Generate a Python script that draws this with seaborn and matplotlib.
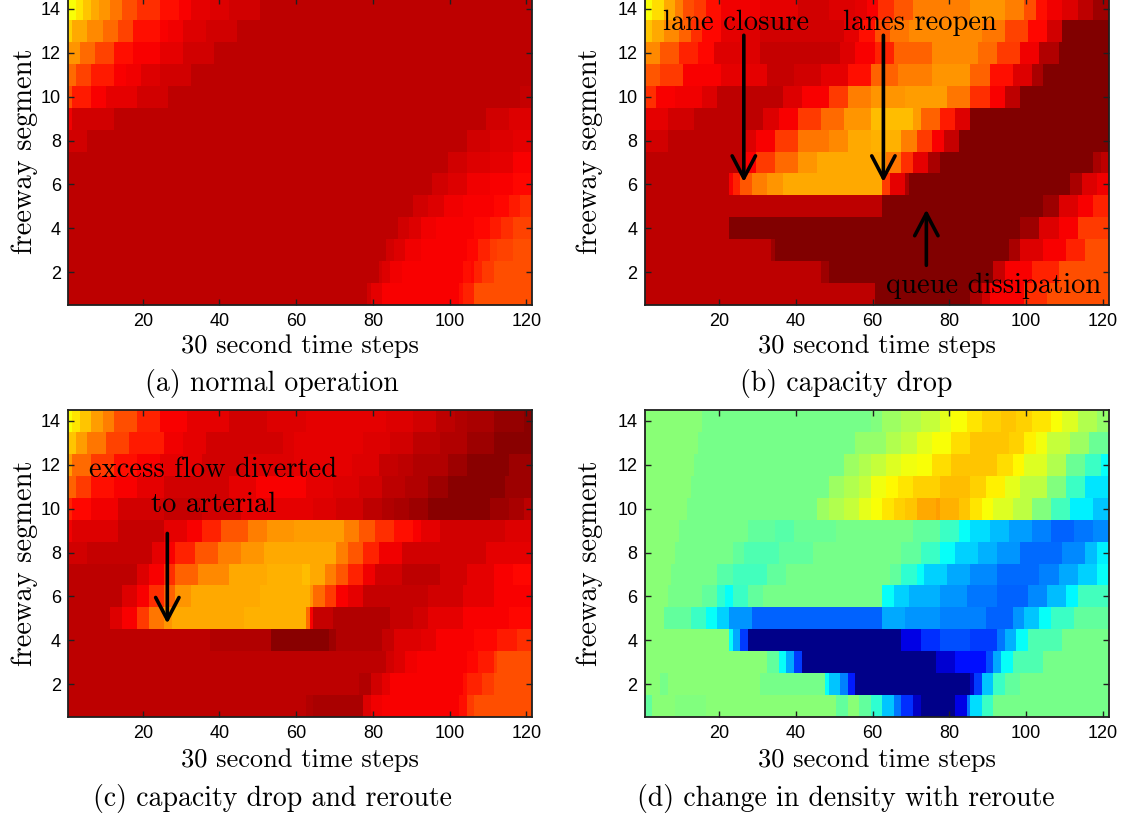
import numpy as np
import matplotlib
matplotlib.use("Agg")
import matplotlib.pyplot as plt
from matplotlib.colors import ListedColormap
import seaborn as sns

n_steps = 121
x_ticks = [20, 40, 60, 80, 100, 120]
y_ticks = [2, 4, 6, 8, 10, 12, 14]

# values on the 0-100 jet colour scale, one list per freeway segment (14 at top -> 1),
# each entry is (first 30 s time step of the run, value)
normal_runs = [
    [(1, 62), (3, 65), (5, 68), (7, 71), (9, 73), (12, 76), (15, 80), (19, 83), (25, 86), (30, 88), (33, 90), (38, 91), (43, 92), (51, 94)],
    [(1, 67), (2, 71), (6, 74), (10, 77), (14, 81), (18, 86), (25, 88), (27, 89), (31, 91), (37, 92), (45, 94)],
    [(1, 73), (4, 77), (8, 81), (13, 86), (18, 88), (25, 90), (31, 92), (39, 94)],
    [(1, 77), (3, 81), (7, 85), (13, 88), (16, 89), (20, 91), (25, 92), (33, 94)],
    [(1, 80), (2, 85), (7, 88), (11, 90), (19, 92), (27, 94), (119, 93)],
    [(1, 89), (2, 92), (13, 94), (110, 92), (116, 91)],
    [(1, 92), (6, 94), (105, 92), (111, 91), (117, 90)],
    [(1, 94), (100, 92), (105, 91), (111, 90), (117, 88)],
    [(1, 94), (96, 92), (100, 91), (105, 89), (111, 88), (117, 87)],
    [(1, 94), (91, 92), (95, 91), (99, 89), (104, 88), (112, 87), (116, 85), (119, 83)],
    [(1, 94), (87, 92), (90, 91), (93, 89), (97, 88), (107, 87), (111, 85), (114, 83), (117, 81)],
    [(1, 94), (84, 92), (86, 91), (89, 89), (93, 88), (105, 87), (108, 84), (111, 82), (113, 81), (117, 80)],
    [(1, 94), (82, 92), (83, 91), (85, 89), (88, 88), (104, 86), (106, 87), (107, 84), (109, 82), (112, 80)],
    [(1, 94), (79, 92), (80, 90), (83, 88), (103, 86), (104, 84), (107, 80)],
]

drop_runs = [
    [(1, 62), (3, 66), (6, 71), (9, 75), (11, 80), (14, 82), (17, 86), (21, 89), (31, 90), (41, 92), (49, 91), (56, 90), (59, 88), (62, 83), (66, 79), (71, 75), (86, 73), (95, 75), (100, 80), (103, 86), (106, 89), (110, 91), (114, 94), (118, 97)],
    [(1, 68), (3, 71), (6, 74), (10, 78), (13, 83), (16, 87), (21, 90), (26, 91), (31, 92), (53, 90), (57, 86), (61, 80), (65, 76), (70, 74), (89, 76), (95, 81), (101, 87), (106, 92), (110, 100)],
    [(1, 74), (5, 79), (10, 84), (15, 87), (19, 91), (31, 93), (52, 91), (56, 88), (61, 84), (66, 78), (76, 74), (88, 77), (93, 82), (99, 89), (104, 95), (109, 100)],
    [(1, 79), (5, 82), (11, 88), (21, 90), (33, 93), (40, 92), (47, 90), (54, 86), (60, 78), (67, 75), (76, 73), (86, 78), (91, 86), (97, 91), (102, 96), (105, 100)],
    [(1, 83), (4, 88), (9, 89), (16, 91), (20, 94), (37, 91), (42, 88), (49, 82), (54, 75), (60, 73), (69, 72), (80, 76), (86, 83), (91, 88), (95, 94), (99, 100)],
    [(1, 90), (7, 92), (14, 94), (32, 91), (36, 88), (41, 82), (47, 77), (53, 73), (60, 69), (71, 72), (73, 78), (78, 85), (82, 91), (86, 100)],
    [(1, 92), (7, 94), (27, 91), (30, 88), (35, 82), (41, 76), (49, 74), (54, 71), (60, 70), (68, 75), (72, 82), (76, 88), (79, 93), (83, 100)],
    [(1, 94), (27, 88), (30, 82), (35, 77), (41, 73), (46, 71), (64, 76), (68, 83), (71, 90), (75, 96), (78, 100), (118, 96), (120, 94)],
    [(1, 94), (23, 88), (24, 84), (26, 79), (29, 75), (33, 73), (37, 71), (63, 82), (65, 90), (69, 96), (70, 100), (112, 96), (115, 91), (119, 89)],
    [(1, 94), (63, 100), (105, 97), (109, 91), (114, 88), (118, 84)],
    [(1, 94), (23, 100), (99, 97), (104, 91), (109, 88), (114, 82)],
    [(1, 94), (34, 97), (35, 100), (96, 96), (99, 91), (105, 88), (111, 84), (116, 80)],
    [(1, 94), (47, 97), (49, 100), (92, 93), (95, 88), (102, 84), (109, 80)],
    [(1, 94), (61, 100), (86, 96), (89, 92), (91, 88), (100, 83), (106, 80)],
]

reroute_runs = [
    [(1, 62), (2, 65), (4, 68), (7, 72), (10, 75), (13, 80), (19, 84), (25, 88), (32, 90), (43, 92), (53, 91), (63, 90), (84, 91), (91, 92), (97, 94), (102, 95), (105, 96), (112, 98), (120, 99)],
    [(1, 68), (3, 72), (6, 76), (11, 81), (17, 85), (26, 89), (31, 90), (37, 92), (57, 91), (60, 90), (78, 91), (85, 92), (91, 94), (98, 95), (105, 97), (112, 99)],
    [(1, 72), (2, 77), (7, 82), (13, 86), (19, 88), (25, 90), (36, 92), (48, 91), (60, 90), (75, 91), (82, 93), (87, 94), (91, 95), (100, 97), (105, 99), (116, 97)],
    [(1, 78), (3, 82), (7, 86), (13, 88), (19, 90), (26, 92), (43, 90), (50, 88), (63, 90), (70, 91), (77, 92), (83, 94), (89, 95), (95, 97), (100, 99), (115, 97)],
    [(1, 84), (2, 87), (7, 89), (14, 92), (26, 93), (36, 92), (46, 90), (65, 91), (71, 92), (78, 94), (83, 95), (86, 96), (90, 97), (95, 99), (111, 97), (116, 96), (120, 94)],
    [(1, 89), (2, 91), (14, 93), (26, 90), (32, 88), (36, 84), (41, 79), (48, 75), (53, 73), (60, 72), (73, 75), (77, 79), (81, 83), (86, 86), (91, 88), (93, 90), (98, 92), (115, 91)],
    [(1, 92), (6, 93), (23, 90), (26, 88), (29, 84), (34, 79), (40, 75), (46, 73), (52, 71), (71, 75), (74, 79), (78, 84), (82, 89), (88, 92), (110, 90)],
    [(1, 94), (19, 91), (22, 88), (26, 83), (29, 78), (35, 74), (43, 71), (53, 70), (62, 69), (64, 71), (68, 75), (71, 79), (74, 84), (78, 89), (81, 92), (88, 94), (98, 92), (105, 90), (112, 88), (117, 87)],
    [(1, 94), (15, 91), (19, 88), (22, 83), (26, 78), (29, 73), (33, 71), (51, 70), (64, 73), (65, 77), (68, 82), (71, 88), (74, 90), (78, 93), (95, 92), (104, 90), (112, 88)],
    [(1, 94), (12, 91), (15, 88), (19, 82), (22, 76), (26, 73), (28, 71), (47, 70), (63, 77), (64, 88), (65, 93), (70, 95), (85, 93), (91, 92), (95, 90), (104, 88), (116, 87)],
    [(1, 94), (38, 95), (54, 99), (69, 97), (71, 95), (83, 93), (86, 91), (93, 90), (97, 88), (107, 87), (113, 85), (118, 83)],
    [(1, 94), (84, 92), (86, 91), (89, 89), (92, 88), (105, 87), (108, 85), (112, 82), (113, 80)],
    [(1, 94), (77, 95), (80, 92), (83, 90), (85, 88), (104, 86), (105, 84), (109, 82), (112, 80)],
    [(1, 94), (63, 95), (65, 96), (78, 91), (80, 89), (83, 88), (103, 86), (105, 82), (107, 80)],
]

change_runs = [
    [(1, 51), (16, 49), (60, 50), (63, 53), (68, 55), (73, 57), (78, 60), (81, 62), (85, 65), (89, 67), (94, 68), (98, 67), (102, 65), (107, 62), (110, 59), (114, 55), (119, 52)],
    [(1, 51), (15, 49), (56, 52), (64, 55), (68, 57), (72, 60), (76, 62), (81, 66), (86, 68), (96, 67), (100, 64), (103, 61), (106, 57), (112, 53), (117, 48)],
    [(1, 51), (14, 49), (53, 53), (57, 55), (60, 57), (64, 59), (68, 61), (72, 62), (76, 66), (81, 68), (93, 66), (97, 63), (100, 59), (106, 55), (111, 48), (116, 43), (120, 38)],
    [(1, 51), (13, 49), (49, 53), (53, 55), (57, 57), (60, 61), (64, 63), (67, 65), (71, 67), (78, 69), (86, 67), (90, 64), (95, 60), (99, 56), (106, 50), (111, 43), (116, 35)],
    [(1, 51), (12, 49), (46, 53), (49, 55), (53, 57), (57, 60), (60, 62), (63, 65), (66, 67), (69, 68), (72, 71), (77, 72), (78, 70), (83, 68), (86, 65), (89, 62), (92, 59), (97, 56), (102, 50), (107, 44), (112, 36), (118, 32)],
    [(1, 51), (10, 49), (28, 47), (35, 46), (40, 48), (51, 49), (71, 47), (78, 43), (83, 38), (86, 34), (91, 31), (96, 28), (102, 25), (107, 22), (113, 24), (118, 26)],
    [(1, 51), (9, 49), (24, 47), (27, 45), (36, 47), (45, 49), (68, 47), (73, 43), (78, 38), (82, 33), (88, 30), (93, 27), (99, 23), (110, 26), (116, 31), (119, 36)],
    [(1, 51), (8, 49), (20, 46), (24, 44), (33, 47), (38, 49), (65, 47), (68, 42), (72, 38), (74, 33), (80, 29), (86, 26), (93, 23), (104, 25), (109, 29), (114, 33), (119, 38)],
    [(1, 51), (7, 49), (16, 47), (20, 42), (22, 38), (24, 43), (28, 47), (32, 49), (63, 38), (66, 33), (70, 30), (78, 27), (85, 24), (93, 22), (101, 26), (106, 31), (111, 37), (114, 44)],
    [(1, 51), (6, 47), (13, 43), (17, 38), (20, 33), (23, 27), (29, 22), (63, 29), (69, 27), (78, 25), (90, 22), (97, 27), (100, 32), (104, 38), (107, 43), (113, 47)],
    [(1, 51), (23, 38), (24, 29), (26, 18), (28, 1), (68, 10), (73, 17), (78, 20), (86, 18), (93, 24), (95, 30), (98, 38), (101, 45), (110, 49)],
    [(1, 51), (33, 47), (36, 38), (38, 29), (40, 18), (42, 1), (77, 8), (82, 14), (90, 20), (92, 29), (94, 38), (97, 45), (105, 49)],
    [(1, 51), (5, 49), (7, 51), (31, 49), (48, 38), (49, 32), (52, 25), (54, 15), (56, 1), (86, 7), (87, 18), (89, 32), (92, 43), (95, 47), (99, 49)],
    [(1, 47), (3, 51), (9, 50), (17, 51), (51, 47), (54, 51), (57, 47), (60, 42), (63, 32), (66, 24), (68, 17), (71, 7), (73, 1), (82, 10), (85, 24), (86, 34), (89, 43), (92, 49)],
]

captions = ["(a) normal operation", "(b) capacity drop",
            "(c) capacity drop and reroute", "(d) change in density with reroute"]


def expand(runs):
    row = np.zeros(n_steps)
    ends = [s for s, _ in runs[1:]] + [n_steps + 1]
    for (s, v), e in zip(runs, ends):
        row[s - 1:e - 1] = v
    return row


# MATLAB style jet
u = (np.arange(256) + 0.5) / 256
jet = ListedColormap(np.column_stack([
    np.clip(1.5 - np.abs(4 * u - 3), 0, 1),
    np.clip(1.5 - np.abs(4 * u - 2), 0, 1),
    np.clip(1.5 - np.abs(4 * u - 1), 0, 1),
]))

plt.rcParams['font.family'] = ['Liberation Sans', 'DejaVu Sans']
serif = 'cmr10'

W, H = 1122, 817
fig = plt.figure(figsize=(W / 100, H / 100), dpi=100)


def px_axes(left, top, width, height):
    return fig.add_axes([left / W, 1 - (top + height) / H, width / W, height / H])


axes = [px_axes(68, -2, 464, 307), px_axes(644.5, -2, 464, 307),
        px_axes(68, 410, 464, 307), px_axes(644.5, 410, 464, 307)]

for ax, runs in zip(axes, [normal_runs, drop_runs, reroute_runs, change_runs]):
    grid = np.array([expand(r) for r in runs])
    sns.heatmap(grid, ax=ax, cmap=jet, vmin=0, vmax=100, cbar=False,
                xticklabels=False, yticklabels=False)
    ax.set_xticks([t - 0.5 for t in x_ticks])
    ax.set_xticklabels(x_ticks)
    ax.set_yticks([14.5 - s for s in y_ticks])
    ax.set_yticklabels(y_ticks)
    for sp in ax.spines.values():
        sp.set_visible(True)
        sp.set_linewidth(1.3)
        sp.set_color('#202020')
    ax.tick_params(axis='both', direction='in', length=4, width=1, top=True, right=True,
                   labelsize=13, colors='#202020', labelcolor='black')
    ax.tick_params(axis='x', pad=6)
    ax.tick_params(axis='y', pad=5)

# axis labels and captions
for cx, ylab_x, mid_y, xl_y, cap_y, cap in [
        (300, 25, 151.5, 353, 391, captions[0]),
        (876.5, 590, 151.5, 353, 391, captions[1]),
        (300, 25, 563.5, 767, 806, captions[2]),
        (876.5, 590, 563.5, 767, 806, captions[3])]:
    fig.text(ylab_x / W, 1 - mid_y / H, "freeway segment", rotation=90, ha='center', va='center',
             fontsize=20.5, family=serif)
    fig.text(cx / W, 1 - xl_y / H, "30 second time steps", ha='center', va='baseline',
             fontsize=19, family=serif)
    cap_x = 272 if cx < 500 else 846
    fig.text(cap_x / W, 1 - cap_y / H, cap, ha='center', va='baseline', fontsize=20, family=serif)

arrow = dict(arrowstyle='->,head_length=0.8,head_width=0.42', lw=2.6, color='black',
             shrinkA=0, shrinkB=0, mutation_scale=20)

ax = axes[1]
ax.text(24.0, 1.46, "lane closure", ha='center', va='baseline', fontsize=20.5, family=serif)
ax.text(71.7, 1.46, "lanes reopen", ha='center', va='baseline', fontsize=20.5, family=serif)
ax.text(91.1, 13.46, "queue dissipation", ha='center', va='baseline', fontsize=20.5, family=serif)
ax.annotate('', xy=(25.9, 8.39), xytext=(25.9, 1.7), arrowprops=arrow)
ax.annotate('', xy=(62.3, 8.39), xytext=(62.3, 1.7), arrowprops=arrow)
ax.annotate('', xy=(73.5, 9.65), xytext=(73.5, 12.19), arrowprops=arrow)

ax = axes[2]
ax.text(37.9, 3.05, "excess flow diverted", ha='center', va='baseline', fontsize=20.5, family=serif)
ax.text(38.1, 4.67, "to arterial", ha='center', va='baseline', fontsize=20.5, family=serif)
ax.annotate('', xy=(25.9, 9.74), xytext=(25.9, 5.63), arrowprops=arrow)

fig.savefig("out.png", dpi=100)
